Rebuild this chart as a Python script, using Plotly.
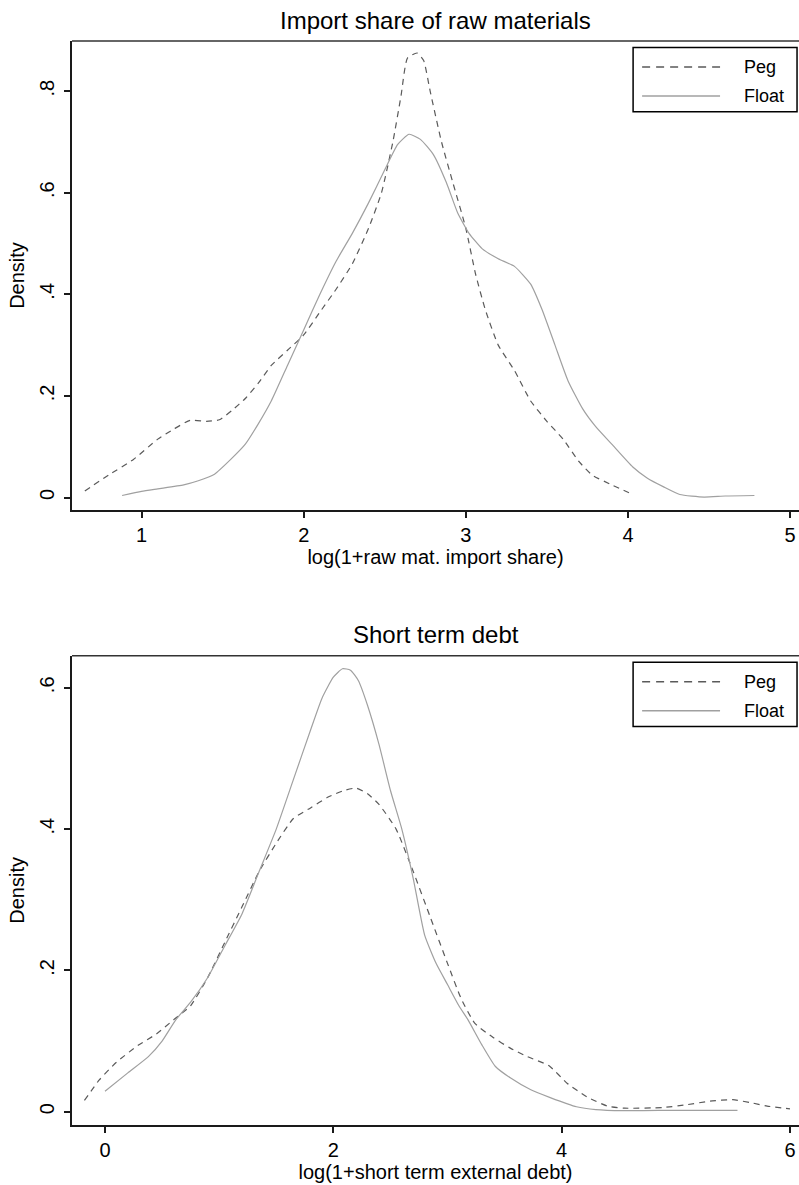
import plotly.graph_objects as go

# ---------------- data ----------------
titles = ["Import share of raw materials", "Short term debt"]
x_titles = ["log(1+raw mat. import share)", "log(1+short term external debt)"]
y_title = "Density"
series_names = ["Peg", "Float"]

raw_peg_x = [0.65, 0.80, 0.95, 1.10, 1.20, 1.30, 1.40, 1.48, 1.56, 1.64, 1.72, 1.80, 1.90, 2.00,
             2.10, 2.20, 2.30, 2.40, 2.48, 2.55, 2.60, 2.64, 2.70, 2.74, 2.78, 2.85, 2.92, 3.00,
             3.06, 3.12, 3.20, 3.30, 3.40, 3.50, 3.60, 3.70, 3.78, 3.90, 4.03]
raw_peg_y = [0.013, 0.045, 0.075, 0.115, 0.135, 0.152, 0.150, 0.153, 0.172, 0.195, 0.225, 0.26,
             0.29, 0.32, 0.365, 0.41, 0.46, 0.53, 0.60, 0.70, 0.79, 0.865, 0.875, 0.86, 0.80,
             0.70, 0.62, 0.53, 0.44, 0.37, 0.30, 0.25, 0.19, 0.15, 0.115, 0.07, 0.044, 0.025, 0.006]

raw_float_x = [0.88, 1.00, 1.10, 1.26, 1.35, 1.45, 1.55, 1.64, 1.72, 1.80, 1.90, 2.00, 2.10, 2.20,
               2.30, 2.40, 2.50, 2.58, 2.65, 2.72, 2.80, 2.88, 2.95, 3.02, 3.10, 3.20, 3.30, 3.40,
               3.47, 3.55, 3.63, 3.72, 3.80, 3.90, 4.03, 4.12, 4.22, 4.32, 4.47, 4.60, 4.78]
raw_float_y = [0.004, 0.012, 0.017, 0.025, 0.033, 0.046, 0.075, 0.105, 0.145, 0.19, 0.26, 0.33,
               0.40, 0.465, 0.52, 0.58, 0.645, 0.695, 0.715, 0.705, 0.675, 0.62, 0.56, 0.52, 0.49,
               0.47, 0.455, 0.42, 0.37, 0.30, 0.23, 0.175, 0.14, 0.105, 0.06, 0.038, 0.021, 0.006,
               0.001, 0.003, 0.004]

debt_peg_x = [-0.18, -0.05, 0.10, 0.29, 0.45, 0.60, 0.75, 0.90, 1.05, 1.20, 1.35, 1.50, 1.65, 1.80,
              1.95, 2.10, 2.20, 2.30, 2.40, 2.55, 2.70, 2.85, 3.00, 3.12, 3.24, 3.40, 3.55, 3.70,
              3.89, 4.05, 4.22, 4.40, 4.55, 4.89, 5.10, 5.30, 5.50, 5.65, 5.80, 6.00]
debt_peg_y = [0.016, 0.045, 0.07, 0.094, 0.11, 0.13, 0.15, 0.19, 0.24, 0.29, 0.34, 0.38, 0.415,
              0.43, 0.445, 0.455, 0.458, 0.45, 0.435, 0.40, 0.34, 0.275, 0.21, 0.16, 0.125, 0.105,
              0.09, 0.078, 0.065, 0.04, 0.021, 0.008, 0.005, 0.006, 0.01, 0.015, 0.017, 0.013,
              0.008, 0.004]

debt_float_x = [0.00, 0.20, 0.38, 0.50, 0.62, 0.75, 0.90, 1.05, 1.20, 1.35, 1.50, 1.65, 1.80, 1.90,
                2.00, 2.08, 2.15, 2.22, 2.30, 2.40, 2.50, 2.60, 2.70, 2.80, 2.90, 3.00, 3.10, 3.18,
                3.30, 3.42, 3.55, 3.73, 3.90, 4.13, 4.30, 4.54, 5.00, 5.54]
debt_float_y = [0.029, 0.055, 0.078, 0.10, 0.13, 0.155, 0.19, 0.235, 0.28, 0.34, 0.40, 0.47, 0.54,
                0.585, 0.615, 0.627, 0.625, 0.61, 0.575, 0.52, 0.455, 0.40, 0.33, 0.25, 0.21, 0.18,
                0.15, 0.13, 0.095, 0.064, 0.048, 0.031, 0.02, 0.007, 0.003, 0.0015, 0.002, 0.002]

raw_xticks = [1, 2, 3, 4, 5]
debt_xticks = [0, 2, 4, 6]
raw_yticks = [0, 0.2, 0.4, 0.6, 0.8]
raw_yticklabels = ["0", ".2", ".4", ".6", ".8"]
debt_yticks = [0, 0.2, 0.4, 0.6]
debt_yticklabels = ["0", ".2", ".4", ".6"]

# ---------------- style ----------------
FONT = "Liberation Sans, Arial, sans-serif"
PEG_COLOR = "#5a5a5a"
FLOAT_COLOR = "#a0a0a0"
AXIS_COLOR = "#1a1a1a"

fig = go.Figure()

panels = [
    dict(px=raw_peg_x, py=raw_peg_y, fx=raw_float_x, fy=raw_float_y, xa="x", ya="y"),
    dict(px=debt_peg_x, py=debt_peg_y, fx=debt_float_x, fy=debt_float_y, xa="x2", ya="y2"),
]
for p in panels:
    fig.add_trace(go.Scatter(x=p["px"], y=p["py"], mode="lines", name=series_names[0],
                             line=dict(color=PEG_COLOR, width=1.2, dash="6px,5px", shape="spline",
                                       smoothing=0.5),
                             xaxis=p["xa"], yaxis=p["ya"], showlegend=False))
    fig.add_trace(go.Scatter(x=p["fx"], y=p["fy"], mode="lines", name=series_names[1],
                             line=dict(color=FLOAT_COLOR, width=1.2, shape="spline", smoothing=0.5),
                             xaxis=p["xa"], yaxis=p["ya"], showlegend=False))

axis_common = dict(showgrid=False, zeroline=False, showline=True, linecolor=AXIS_COLOR,
                   linewidth=2, ticks="outside", ticklen=6, tickwidth=1.5, tickcolor=AXIS_COLOR,
                   ticklabeloverflow="allow",
                   tickfont=dict(family=FONT, size=20, color="black"))
x_common = dict(ticklabelstandoff=0, **axis_common)
y_common = dict(ticklabelstandoff=2, tickangle=-90, **axis_common)
title_font = dict(family=FONT, size=20, color="black")

fig.update_layout(
    width=799, height=1185,
    margin=dict(l=72, r=0, t=41, b=60),
    paper_bgcolor="white", plot_bgcolor="white",
    font=dict(family=FONT, color="black"),
    xaxis=dict(domain=[0, 1], anchor="y", range=[0.571, 5.055], tickvals=raw_xticks,
               title=dict(text=x_titles[0], font=title_font, standoff=2), **x_common),
    yaxis=dict(domain=[0.5673, 1], anchor="x", range=[-0.0246, 0.8986], tickvals=raw_yticks,
               ticktext=raw_yticklabels,
               title=dict(text=y_title, font=title_font, standoff=6), **y_common),
    xaxis2=dict(domain=[0, 1], anchor="y2", range=[-0.289, 6.079], tickvals=debt_xticks,
                title=dict(text=x_titles[1], font=title_font, standoff=2), **x_common),
    yaxis2=dict(domain=[0, 0.4329], anchor="x2", range=[-0.0188, 0.6454], tickvals=debt_yticks,
                ticktext=debt_yticklabels,
                title=dict(text=y_title, font=title_font, standoff=6), **y_common),
)

# titles, top borders and legends
for i, (xa, ya) in enumerate([("x", "y"), ("x2", "y2")]):
    fig.add_annotation(text=titles[i], xref=f"{xa} domain", yref=f"{ya} domain",
                       x=0.5, y=1, yshift=21, showarrow=False,
                       font=dict(family=FONT, size=24, color="black"),
                       xanchor="center", yanchor="middle")
    fig.add_shape(type="line", xref=f"{xa} domain", yref=f"{ya} domain",
                  x0=0, x1=1, y0=1, y1=1, line=dict(color="#333333", width=1.5))
    # legend box
    fig.add_shape(type="rect", xref=f"{xa} domain", yref=f"{ya} domain",
                  x0=0.7718, x1=0.9973, y0=0.849, y1=0.986,
                  line=dict(color="black", width=1.5), fillcolor="white")
    rows = [0.9446, 0.8830]
    styles = [dict(color=PEG_COLOR, width=1.5, dash="8px,6px"),
              dict(color=FLOAT_COLOR, width=1.5)]
    for r, name, st in zip(rows, series_names, styles):
        fig.add_shape(type="line", xref=f"{xa} domain", yref=f"{ya} domain",
                      x0=0.7842, x1=0.8914, y0=r, y1=r, line=st)
        fig.add_annotation(text=name, xref=f"{xa} domain", yref=f"{ya} domain",
                           x=0.9216, y=r, showarrow=False, xanchor="left", yanchor="middle",
                           font=dict(family=FONT, size=18, color="black"))

# remove the browser's default 8px body margin so the figure sits at the window origin
fig.write_html("out.html",
               config={"displayModeBar": False},
               post_script="document.body.style.margin='0';document.body.style.overflow='hidden';")
